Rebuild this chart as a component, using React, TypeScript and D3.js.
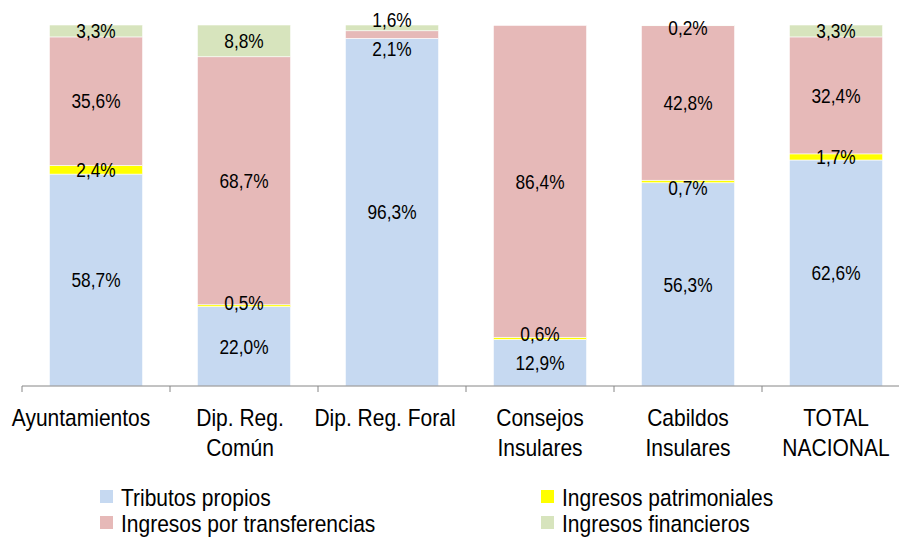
import * as d3 from "d3";

const categories = [
  "Ayuntamientos",
  "Dip. Reg. Común",
  "Dip. Reg. Foral",
  "Consejos Insulares",
  "Cabildos Insulares",
  "TOTAL NACIONAL",
];
// axis label lines (as printed)
const categoryLines = [
  ["Ayuntamientos"],
  ["Dip. Reg.", "Común"],
  ["Dip. Reg. Foral"],
  ["Consejos", "Insulares"],
  ["Cabildos", "Insulares"],
  ["TOTAL", "NACIONAL"],
];

const seriesNames = [
  "Tributos propios",
  "Ingresos patrimoniales",
  "Ingresos por transferencias",
  "Ingresos financieros",
];
const tributos = [58.7, 22.0, 96.3, 12.9, 56.3, 62.6];
const patrimoniales = [2.4, 0.5, 0.0, 0.6, 0.7, 1.7];
const transferencias = [35.6, 68.7, 2.1, 86.4, 42.8, 32.4];
const financieros = [3.3, 8.8, 1.6, 0.0, 0.2, 3.3];

const colors = ["#C6D9F1", "#FFFF00", "#E6B9B8", "#D7E4BD"];

// small nudges so tiny segment labels do not collide (px, by category/series)
const labelNudge: Record<string, number> = {
  "1-1": -3,
  "2-2": 14,
  "2-3": -8,
  "3-1": -5,
  "4-1": 6,
  "4-3": 2,
};
const labelDx = [-15, -4, -7, 0, 0, 0];

const W = 899;
const H = 537;
const FONT = "'Liberation Sans', Arial, sans-serif";
const SY = 1.17; // text in the original is a bit taller than wide

function T({ x, y, size, anchor = "middle", children, dy = 0 }: any) {
  return (
    <text
      transform={`translate(${x},${y}) scale(1,${SY})`}
      dy={dy}
      textAnchor={anchor}
      fontSize={size}
      fill="#000"
    >
      {children}
    </text>
  );
}

export default function App() {
  const x = d3
    .scaleBand<string>()
    .domain(categories)
    .range([22, 22 + 148 * 6])
    .paddingInner(0.37)
    .paddingOuter(0.185);
  const y = d3.scaleLinear().domain([0, 100]).range([386, 25]);

  const rows = categories.map((c, i) => ({
    cat: c,
    "0": tributos[i],
    "1": patrimoniales[i],
    "2": transferencias[i],
    "3": financieros[i],
  }));
  const stack = d3.stack<any>().keys(["0", "1", "2", "3"])(rows);

  const step = x.step();
  const axisY = y(0);

  const legendItems = [
    { name: seriesNames[0], color: colors[0], x: 100, y: 490 },
    { name: seriesNames[2], color: colors[2], x: 100, y: 516 },
    { name: seriesNames[1], color: colors[1], x: 541, y: 490 },
    { name: seriesNames[3], color: colors[3], x: 541, y: 516 },
  ];

  return (
    <svg
      width={W}
      height={H}
      style={{ position: "absolute", left: 0, top: 0, background: "#fff" }}
      fontFamily={FONT}
    >
      {stack.map((layer, si) =>
        layer.map((d, ci) => {
          const v = d[1] - d[0];
          if (v <= 0) return null;
          return (
            <rect
              key={si + "-" + ci}
              x={x(categories[ci])}
              width={x.bandwidth()}
              y={y(d[1])}
              height={y(d[0]) - y(d[1])}
              fill={colors[si]}
              stroke="#fff"
              strokeWidth={0.6}
            />
          );
        })
      )}

      {stack.map((layer, si) =>
        layer.map((d, ci) => {
          const v = d[1] - d[0];
          if (v <= 0) return null;
          const cx = (x(categories[ci]) as number) + x.bandwidth() / 2;
          const cy = (y(d[0]) + y(d[1])) / 2 + (labelNudge[ci + "-" + si] || 0);
          return (
            <T key={"l" + si + "-" + ci} x={cx} y={cy} size={17.3} dy="0.36em">
              {v.toFixed(1).replace(".", ",")}%
            </T>
          );
        })
      )}

      {/* category axis */}
      <line x1={22} x2={W} y1={axisY} y2={axisY} stroke="#868686" strokeWidth={1} />
      {d3.range(categories.length + 1).map((i) => (
        <line
          key={"t" + i}
          x1={22 + i * step}
          x2={22 + i * step}
          y1={axisY}
          y2={axisY + 6}
          stroke="#868686"
        />
      ))}
      {categoryLines.map((lines, i) =>
        lines.map((ln, k) => (
          <T
            key={"c" + i + "-" + k}
            x={(x(categories[i]) as number) + x.bandwidth() / 2 + labelDx[i]}
            y={426 + k * 30}
            size={21}
          >
            {ln}
          </T>
        ))
      )}

      {/* legend */}
      {legendItems.map((it) => (
        <g key={it.name}>
          <rect x={it.x} y={it.y} width={13} height={13} fill={it.color} />
          <T x={it.x + 21} y={it.y + 15.5} size={21} anchor="start">
            {it.name}
          </T>
        </g>
      ))}
    </svg>
  );
}
